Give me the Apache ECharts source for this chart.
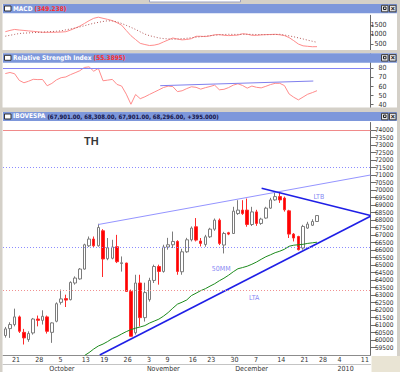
<!DOCTYPE html>
<html><head><meta charset="utf-8">
<script src="https://cdn.jsdelivr.net/npm/echarts@6/dist/echarts.min.js"></script>
<style>html,body{margin:0;padding:0;background:#fff}#c{width:400px;height:372px}</style>
</head><body><div id="c"></div>
<script>
// ---------- DATA ----------
const dates = [
'2009-09-18',
'2009-09-21','2009-09-22','2009-09-23','2009-09-24','2009-09-25',
'2009-09-28','2009-09-29','2009-09-30','2009-10-01','2009-10-02',
'2009-10-05','2009-10-06','2009-10-07','2009-10-08','2009-10-09',
'2009-10-13','2009-10-14','2009-10-15','2009-10-16',
'2009-10-19','2009-10-20','2009-10-21','2009-10-22','2009-10-23',
'2009-10-26','2009-10-27','2009-10-28','2009-10-29','2009-10-30',
'2009-11-03','2009-11-04','2009-11-05','2009-11-06',
'2009-11-09','2009-11-10','2009-11-11','2009-11-12','2009-11-13',
'2009-11-16','2009-11-17','2009-11-18','2009-11-19',
'2009-11-23','2009-11-24','2009-11-25','2009-11-26','2009-11-27',
'2009-11-30','2009-12-01','2009-12-02','2009-12-03','2009-12-04',
'2009-12-07','2009-12-08','2009-12-09','2009-12-10','2009-12-11',
'2009-12-14','2009-12-15','2009-12-16','2009-12-17','2009-12-18',
'2009-12-21','2009-12-22','2009-12-23','2009-12-24',
'2009-12-28','2009-12-29','2009-12-30','2009-12-31',
'2010-01-04','2010-01-05','2010-01-06','2010-01-07','2010-01-08',
'2010-01-11','2010-01-12','2010-01-13'];

const opens  = [60300,60760,61030,61540,60510,60030,60470,61400,61310,61540,
                60510,61250,62510,62760,62690,63800,64070,64730,66280,66730,
                66280,67280,65420,65450,66220,65100,65130,63240,60480,63800,
                61490,62690,63970,64900,64570,66200,66350,66570,64550,65880,
                66680,67550,66600,66370,66880,67390,67990,66330,67150,67100,
                68430,68660,68660,67700,68540,67770,68130,68790,69340,69560,
                69460,68610,67060,66900,66130,67460,67650,67901];
const highs  = [60870,61180,62090,61630,60740,60580,61470,61630,61980,61630,
                61180,62510,63360,63020,63910,64240,64800,66420,66900,66900,
                67750,67390,66800,66680,67010,65570,65150,63360,64350,64350,
                63820,64150,65020,65020,66350,66810,67230,66650,66080,66810,
                67570,68130,66800,67010,67480,68100,68100,67210,67210,68880,
                69320,69320,69430,68880,68680,68150,68880,69480,69900,69810,
                69560,68680,67130,66950,67680,67880,68050,68308];
const lows   = [60160,60140,60910,60470,59700,59880,60360,60910,61030,60430,
                59810,61180,62360,62200,62640,63690,64020,64690,66200,66200,
                66220,64200,65320,65380,65130,64560,63200,60230,60360,60910,
                61230,62560,63800,63690,64490,66020,66130,64350,64350,65810,
                66570,66570,66240,66220,66800,67280,66330,65770,66990,67080,
                68340,68340,67550,67600,67610,67680,68080,68740,69280,69140,
                68560,66800,66570,65970,66020,67410,67600,67901];
const closes = [60740,61030,61540,60580,60140,60430,61400,61310,61580,60580,
                61140,62420,62740,62660,63840,64130,64730,66350,66730,66280,
                67500,65400,66150,66200,65220,65150,63240,60250,63800,61490,
                63160,63970,64900,64570,66200,66350,66570,64570,65880,66680,
                67460,66660,66440,66880,67390,67990,66440,67100,67060,68590,
                68660,68430,67700,68540,67770,68060,68790,69340,69560,69340,
                68680,67060,66800,66020,67570,67730,67901,68296];

const ma50 = ['-','-','-','-','-','-','-','-','-','-','-','-','-','-','-','-','-',
              58960,59160,59400,59600,59730,59900,60100,60230,60400,60560,
              60690,60790,60870,60960,61130,61260,61390,61590,61830,62120,
              62390,62520,62670,62960,63120,63290,63420,63590,63750,63950,
              64120,64320,64550,64750,64830,64920,65050,65200,65380,65550,
              65680,65820,65920,66050,66250,66320,66350,66380,66440,66480,66520];

const macd = [1136,1204,1256,1225,1204,1178,1157,1131,1105,1105,
              1105,1110,1120,1136,1220,1324,1429,1570,1717,1842,
              1900,1842,1785,1722,1612,1481,1199,927,723,524,
              461,409,430,487,597,702,806,749,707,728,
              770,895,895,880,916,974,984,948,932,942,
              958,1031,1005,948,942,969,984,990,1000,974,
              932,827,665,487,393,367,346,349.238];
const signal = [901,948,995,1042,1063,1073,1089,1099,1115,1131,
                1146,1162,1183,1235,1282,1329,1387,1450,1518,1581,
                1628,1675,1711,1701,1659,1570,1471,1366,1256,1131,
                1010,927,869,806,775,759,738,754,770,791,
                817,848,874,901,927,953,974,990,1000,995,
                995,1000,1000,995,990,984,979,984,990,1000,
                963,916,869,812,754,691,634,576];
const rsi = [74.2,75.4,74.0,66.7,64.1,65.8,67.9,67.6,67.7,60.8,
             63.4,67.3,69.7,70.5,73.0,75.1,77.3,80.9,81.6,76.8,
             79.9,66.3,67.0,67.8,62.3,60.5,51.6,40.5,51.2,46.6,
             48.7,51.3,53.8,56.3,58.9,60.4,59.9,54.4,55.3,57.7,
             59.7,59.1,57.1,58.7,60.0,61.5,56.4,56.9,58.8,61.5,
             63.0,61.1,58.2,60.5,59.1,58.5,60.2,62.1,63.5,63.5,
             61.0,51.8,48.2,45.3,48.4,51.5,53.3,55.3895];

const rsiLevel = 80;
const rsiTrend = [[34.3, 60.9], [67.2, 66.0]];          // [day position, RSI]
const priceLevels = [74000, 71500, 66180, 63300];
const trendTop = [[21, 67700], [79.5, 71000]];          // [day position, price]
const trendLTB = [[56.1, 70120], [79.5, 68300]];
const trendLTA = [[21.3, 59000], [79.5, 68250]];
const notes = [['TH', 19.5, 73300], ['LTB', 68.4, 69560], ['50MM', 47.4, 64720], ['LTA', 54.5, 62810]];

const macdTicks = [0, 2000, 500];
const rsiTicks = [30, 90, 10];
const priceTicks = [59000, 74500, 500];
const monthNames = ['January','February','March','April','May','June','July','August','September','October','November','December'];

// ---------- BUILD ----------
const FONT = "'Liberation Sans Narrow','DejaVu Sans Condensed','Liberation Sans',sans-serif";
const N = dates.length;
const wd = dates.map(d => new Date(d + 'T00:00:00Z').getUTCDay());
const mo = dates.map(d => +d.slice(5, 7));
const isWeek = i => i > 0 && wd[i] <= wd[i - 1];
const isMonth = i => i > 0 && mo[i] !== mo[i - 1];
const candles = opens.map((o, i) => [o, closes[i], lows[i], highs[i]]);
const last = opens.length - 1;
const f2 = v => v.toLocaleString('en-US', {minimumFractionDigits: 2, maximumFractionDigits: 2});
const chg = closes[last] - closes[last - 1];
const ohlcText = `(${f2(opens[last])}, ${f2(highs[last])}, ${f2(lows[last])}, ${f2(closes[last])}, ${chg >= 0 ? '+' : ''}${chg.toFixed(3)})`;

const GL = 3, GR = 29.5;
const yAx = (gi, t, extra) => Object.assign({
  type: 'value', gridIndex: gi, position: 'right', min: t[0], max: t[1], interval: t[2],
  axisLine: {show: true, lineStyle: {color: '#6a6a6a'}},
  axisTick: {show: true, length: 3, lineStyle: {color: '#6a6a6a'}},
  axisLabel: {showMinLabel: false, showMaxLabel: false, fontSize: 7, color: '#333', align: 'right', margin: 16, fontFamily: FONT,
    formatter: v => String(v)},
  splitLine: {show: false}
}, extra || {});

const levelStyles = [
  {color: '#f08a8a', type: 'solid'},
  {color: '#8c8cff', type: [1, 2]},
  {color: '#8c8cff', type: [1, 2]},
  {color: '#f09090', type: [1, 2]}
];

const hdrFill = '#7d97db';
const gray = '#d4d0c8';
const G = [];
const rect = (x, y, w, h, fill, stroke, z) => G.push({type: 'rect', silent: true, z: z || 5, shape: {x, y, width: w, height: h}, style: {fill, stroke: stroke || null, lineWidth: 1}});
rect(0, 0, 400, 4, gray);
rect(149.5, -1, 91, 3, '#ffffff', '#9aa0c0');
rect(0, 0, 2.5, 372, gray);
rect(397, 0, 3, 356, gray);
rect(0, 50, 400, 3.3, gray);
rect(0, 107.5, 400, 4.5, gray);
rect(371.5, 356, 28.5, 16, '#e9e4d4');
[[4, 9.3], [53.3, 9.4], [112, 9]].forEach(([y, h]) => {
  rect(3, y, 394, h, hdrFill);
  rect(4.5, y + 2, 6.5, 5, '#ffffff', '#333333', 6);
  rect(381.5, y + 1.3, 6.5, 6.5, '#e4e4e4', '#404040', 6);
  rect(383.5, y + 3, 2.5, 2.5, null, '#202020', 7);
  rect(389.5, y + 1.3, 6.5, 6.5, '#e4e4e4', '#404040', 6);
  G.push({type: 'text', silent: true, z: 7, style: {text: '×', x: 392.75, y: y + 4.6, fill: '#111', font: 'bold 7px sans-serif', align: 'center', verticalAlign: 'middle'}});
});

const hdrTitle = (text, top, rich) => ({
  text, left: 13, top, padding: 0, z: 10,
  textStyle: {fontSize: 6.5, fontFamily: FONT, rich}
});
const rW = {color: '#ffffff', fontWeight: 'bold', fontSize: 6.5, fontFamily: FONT};
const rR = {color: '#ff2f2f', fontWeight: 'bold', fontSize: 6.5, fontFamily: FONT};
const rK = {color: '#14144a', fontSize: 6, fontFamily: FONT};

const option = {
  backgroundColor: '#ffffff',
  animation: false,
  textStyle: {fontFamily: FONT},
  title: [
    hdrTitle(`{w|MACD} {r|(${macd[last]})}`, 5, {w: rW, r: rR}),
    hdrTitle(`{w|Relative Strength Index} {r|(${rsi[last]})}`, 54.4, {w: rW, r: rR}),
    hdrTitle(`{w|IBOVESPA} {k|${ohlcText}}`, 112.9, {w: rW, k: rK})
  ],
  graphic: G,
  grid: [
    {left: GL, right: GR, top: 15.3, height: 38},
    {left: GL, right: GR, top: 59.2, height: 54.6},
    {left: GL, right: GR, top: 122.5, height: 233}
  ],
  xAxis: [
    {type: 'category', gridIndex: 0, data: dates, show: false},
    {type: 'category', gridIndex: 1, data: dates, show: false},
    {type: 'category', gridIndex: 2, data: dates,
      axisLine: {lineStyle: {color: '#8c8c8c'}},
      axisTick: {alignWithLabel: true, length: 9, interval: i => isWeek(i) || isMonth(i), lineStyle: {color: '#a8a8a8'}},
      axisLabel: {interval: 0, margin: 1.5, align: 'left', padding: [0, 0, 0, 2], fontSize: 7, color: '#333', fontFamily: FONT,
        formatter: (v, i) => isWeek(i) ? String(+v.slice(8)) : ''},
      splitLine: {show: false}},
    {type: 'category', gridIndex: 2, data: dates, position: 'bottom', offset: 9,
      axisLine: {lineStyle: {color: '#c4c4c4'}},
      axisTick: {alignWithLabel: true, length: 8, interval: i => isMonth(i), lineStyle: {color: '#a8a8a8'}},
      axisLabel: {interval: 0, margin: 1, align: 'left', padding: [0, 0, 0, 2], fontSize: 7, color: '#333', fontFamily: FONT,
        formatter: (v, i) => isMonth(i) ? (mo[i] === 1 ? v.slice(0, 4) : monthNames[mo[i] - 1]) : ''},
      splitLine: {show: false}},
    {type: 'value', gridIndex: 2, min: 0.5, max: N + 0.5, show: false},
    {type: 'value', gridIndex: 1, min: 0.5, max: N + 0.5, show: false}
  ],
  yAxis: [
    yAx(0, macdTicks),
    yAx(1, rsiTicks),
    yAx(2, priceTicks, {axisTick: {show: true, length: 6, lineStyle: {color: '#6a6a6a'}},
      axisLabel: {showMinLabel: false, showMaxLabel: false, fontSize: 6.5, color: '#333', align: 'right', margin: 23, fontFamily: FONT,
        formatter: v => String(v)}})
  ],
  series: [
    {type: 'line', xAxisIndex: 0, yAxisIndex: 0, data: macd, symbol: 'none', lineStyle: {color: '#ff8c8c', width: 1}},
    {type: 'line', xAxisIndex: 0, yAxisIndex: 0, data: signal, symbol: 'none', lineStyle: {color: '#b45a5a', width: 1, type: [1, 2]}},
    {type: 'line', xAxisIndex: 1, yAxisIndex: 1, data: rsi, symbol: 'none', lineStyle: {color: '#ff8c8c', width: 1},
      markLine: {silent: true, symbol: 'none', label: {show: false}, lineStyle: {color: '#8484f4', type: 'solid', width: 1}, data: [{yAxis: rsiLevel}]}},
    {type: 'line', xAxisIndex: 5, yAxisIndex: 1, data: rsiTrend, symbol: 'none', lineStyle: {color: '#8080ee', width: 1}},
    {type: 'candlestick', xAxisIndex: 2, yAxisIndex: 2, data: candles, barWidth: 3,
      itemStyle: {color: '#ffffff', color0: '#ff0000', borderColor: '#7c7c7c', borderColor0: '#ff2a2a', borderWidth: 1},
      markLine: {silent: true, symbol: 'none', label: {show: false},
        data: priceLevels.map((v, i) => ({yAxis: v, lineStyle: Object.assign({width: 1}, levelStyles[i])}))}},
    {type: 'line', xAxisIndex: 2, yAxisIndex: 2, data: ma50, symbol: 'none', lineStyle: {color: '#1c8a1c', width: 1}},
    {type: 'line', xAxisIndex: 4, yAxisIndex: 2, data: trendTop, symbol: 'none', lineStyle: {color: '#9494ff', width: 1}},
    {type: 'line', xAxisIndex: 4, yAxisIndex: 2, data: trendLTB, symbol: 'none', lineStyle: {color: '#1f1fe6', width: 1.6}},
    {type: 'line', xAxisIndex: 4, yAxisIndex: 2, data: trendLTA, symbol: 'none', lineStyle: {color: '#1f1fe6', width: 1.6}},
    {type: 'scatter', xAxisIndex: 4, yAxisIndex: 2, symbolSize: 1, z: 8, itemStyle: {color: 'rgba(0,0,0,0)'},
      data: notes.map(n => ({value: [n[1], n[2]], name: n[0],
        label: n[0] === 'TH'
          ? {fontSize: 11, fontWeight: 'bold', color: '#000000', fontFamily: 'Liberation Sans, sans-serif'}
          : {fontSize: 7, color: '#6464f0', fontFamily: FONT}})),
      label: {show: true, position: 'inside', formatter: p => p.name}}
  ]
};
const chart = echarts.init(document.getElementById('c'), null, {renderer: 'svg'});
chart.setOption(option);
</script>
</body></html>
